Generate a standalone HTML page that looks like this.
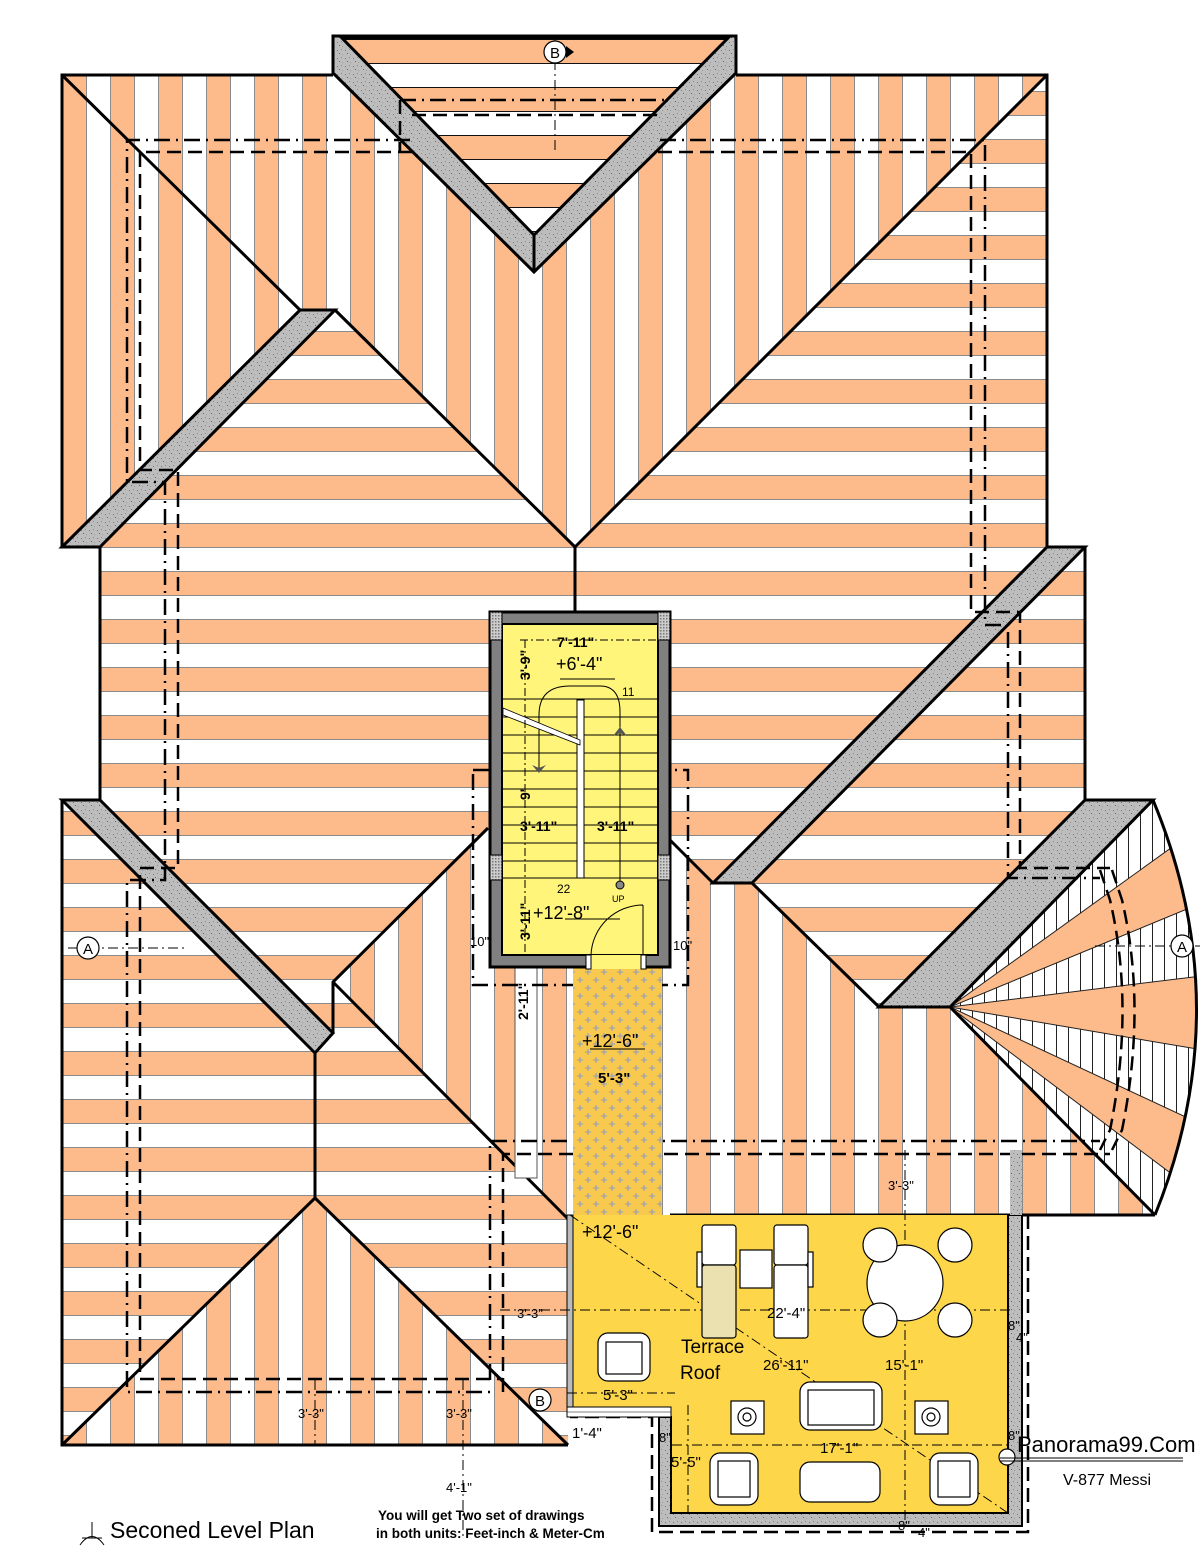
<!DOCTYPE html>
<html><head><meta charset="utf-8"><style>
html,body{margin:0;padding:0;background:#fff}
svg{display:block}
text{font-family:"Liberation Sans",sans-serif}
</style></head><body>
<svg width="1200" height="1549" viewBox="0 0 1200 1549" xmlns="http://www.w3.org/2000/svg">
<defs>
<pattern id="pv" patternUnits="userSpaceOnUse" x="14" y="0" width="48" height="20">
<rect width="48" height="20" fill="#fff"/><rect width="24" height="20" fill="#FDBA8A"/>
<line x1="0.5" y1="0" x2="0.5" y2="20" stroke="#8a8a8a"/><line x1="24.5" y1="0" x2="24.5" y2="20" stroke="#8a8a8a"/>
</pattern>
<pattern id="ph" patternUnits="userSpaceOnUse" x="0" y="43" width="20" height="48">
<rect width="20" height="48" fill="#fff"/><rect width="20" height="24" fill="#FDBA8A"/>
<line x1="0" y1="0.5" x2="20" y2="0.5" stroke="#8a8a8a"/><line x1="0" y1="24.5" x2="20" y2="24.5" stroke="#8a8a8a"/>
</pattern>
<pattern id="pg" patternUnits="userSpaceOnUse" x="0" y="39" width="20" height="48">
<rect width="20" height="48" fill="#fff"/><rect width="20" height="24" fill="#FDBA8A"/>
<line x1="0" y1="0.5" x2="20" y2="0.5" stroke="#111"/><line x1="0" y1="24.5" x2="20" y2="24.5" stroke="#111"/>
</pattern>
<pattern id="hatch" patternUnits="userSpaceOnUse" width="12" height="20">
<rect width="12" height="20" fill="#fff"/><line x1="0.5" y1="0" x2="0.5" y2="20" stroke="#222" stroke-width="1"/>
</pattern>
<pattern id="plus" patternUnits="userSpaceOnUse" width="16" height="16">
<rect width="16" height="16" fill="#F7C94E"/>
<path d="M4 1v6M1 4h6M12 9v6M9 12h6" stroke="#8f9cc4" stroke-width="1"/>
</pattern>
<pattern id="spk" patternUnits="userSpaceOnUse" width="8" height="8">
<rect width="8" height="8" fill="#bdbdbd"/>
<rect x="1" y="2" width="1" height="1" fill="#777"/><rect x="5" y="1" width="1" height="1" fill="#888"/>
<rect x="3" y="5" width="1" height="1" fill="#666"/><rect x="6" y="6" width="1" height="1" fill="#999"/>
</pattern>
<pattern id="chk" patternUnits="userSpaceOnUse" width="3" height="3">
<rect width="3" height="3" fill="#ccc"/><rect width="1.5" height="1.5" fill="#777"/>
</pattern>
<clipPath id="fanclip"><path d="M950,1007 L1153,800 Q1239,1007 1155,1215 Z"/></clipPath>
</defs>

<!-- base horizontal roof -->
<polygon fill="url(#ph)" points="62,75 1047,75 1047,547 1085,547 1085,800 1153,800 1155,1215 570,1215 568,1445 62,1445 62,800 100,800 100,547 62,547"/>
<!-- vertical planes -->
<polygon fill="url(#pv)" points="62,75 1047,75 575,547 335,310 300,310 62,547"/>
<polygon fill="url(#pv)" points="62,1445 315,1198 568,1445"/>
<polygon fill="url(#pv)" points="333,982 488,828 670,828 670,1215 568,1221"/>
<polygon fill="url(#pv)" points="670,840 713,883 752,883 879,1007 950,1007 1155,1215 670,1215"/>
<!-- fan -->
<g clip-path="url(#fanclip)">
<rect x="940" y="790" width="260" height="440" fill="url(#hatch)"/>
<g fill="#FDBA8A" stroke="#222" stroke-width="1">
<polygon points="950,1007 1275,773 1320,854"/>
<polygon points="950,1007 1347,958 1344,1074"/>
<polygon points="950,1007 1312,1176 1270,1248"/>
</g>
</g>
<path d="M1153,800 Q1239,1007 1155,1215" fill="none" stroke="#000" stroke-width="3"/>
<path d="M1100,870 L1110,900 Q1135,1007 1110,1130 L1100,1150 M1112,870 L1122,900 Q1147,1007 1122,1130 L1112,1150" fill="none" stroke="#000" stroke-width="2.5" stroke-dasharray="14 7"/>

<!-- top gable -->
<polygon fill="url(#spk)" stroke="#000" stroke-width="3" points="333,36 736,36 736,73 534,272 333,73"/>
<polygon fill="url(#pg)" stroke="#000" stroke-width="3" points="342,38 728,38 534,235"/>
<line x1="534" y1="235" x2="534" y2="272" stroke="#000" stroke-width="3"/>

<!-- gray ridges -->
<g fill="url(#spk)" stroke="#000" stroke-width="3" stroke-linejoin="miter">
<polygon points="62,547 300,310 335,310 100,547"/>
<polygon points="62,800 100,800 333,1033 315,1053"/>
<polygon points="713,883 1047,547 1085,547 752,883"/>
<polygon points="879,1007 1085,800 1153,800 950,1007"/>
</g>

<!-- roof lines -->
<g fill="none" stroke="#000" stroke-width="3">
<polyline points="333,75 62,75 62,547"/>
<polyline points="736,75 1047,75 1047,547"/>
<line x1="62" y1="75" x2="300" y2="310"/>
<line x1="1047" y1="75" x2="575" y2="547"/>
<line x1="335" y1="310" x2="575" y2="547"/>
<line x1="100" y1="547" x2="100" y2="800"/>
<line x1="575" y1="547" x2="575" y2="612"/>
<polyline points="1085,547 1085,800"/>
<polyline points="62,800 62,1445 568,1445"/>
<line x1="315" y1="1053" x2="315" y2="1198"/>
<polyline points="62,1445 315,1198 568,1445"/>
<polyline points="333,1033 333,982 488,828"/>
<line x1="333" y1="982" x2="570" y2="1221"/>
<line x1="670" y1="840" x2="713" y2="883"/>
<line x1="752" y1="883" x2="879" y2="1007"/>
<line x1="950" y1="1007" x2="1155" y2="1215"/>
<line x1="670" y1="1215" x2="1155" y2="1215"/>
</g>
<rect x="515" y="967" width="22" height="211" fill="#fff" stroke="#555" stroke-width="1"/>

<!-- dashed lines -->
<g fill="none" stroke="#000" stroke-width="2.5">
<g stroke-dasharray="16 6 2 6">
<polyline points="410,140 127,140 127,482 165,482 165,880 127,880 127,1392 490,1392"/>
<polyline points="660,140 985,140 985,625 1008,625 1008,878 1100,878"/>
<polyline points="400,100 670,100"/>
<polyline points="490,1380 490,1141 1100,1141"/>
<polyline points="473,770 688,770 688,985 473,985 473,770"/>
</g>
<g stroke-dasharray="14 7">
<polyline points="412,152 140,152 140,470 178,470 178,868 140,868 140,1379 503,1379"/>
<polyline points="658,152 971,152 971,612 1020,612 1020,868 1110,868"/>
<polyline points="412,115 658,115"/>
<polyline points="400,100 400,152 M412,115 412,152"/>
<polyline points="503,1392 503,1154 1110,1154"/>
<polyline points="1028,1215 1028,1532 652,1532 652,1417 570,1417"/>
</g>
</g>

<!-- thin dash-dot dimension lines -->
<g fill="none" stroke="#000" stroke-width="1" stroke-dasharray="10 4 2 4">
<line x1="68" y1="948" x2="185" y2="948"/>
<line x1="1095" y1="946" x2="1200" y2="946"/>
<line x1="555" y1="40" x2="555" y2="150"/>
<line x1="315" y1="1380" x2="315" y2="1445"/>
<line x1="463" y1="1380" x2="463" y2="1540"/>
</g>

<!-- walkway -->
<rect x="573" y="967" width="89" height="248" fill="url(#plus)"/>

<!-- stair shaft -->
<rect x="490" y="612" width="180" height="355" fill="#808080" stroke="#000" stroke-width="3"/>
<rect x="502" y="624" width="156" height="331" fill="#FFF57A" stroke="#000" stroke-width="2"/>
<rect x="490" y="612" width="12" height="28" fill="url(#chk)" stroke="#000"/>
<rect x="658" y="612" width="12" height="28" fill="url(#chk)" stroke="#000"/>
<rect x="490" y="855" width="12" height="25" fill="url(#chk)" stroke="#000"/>
<rect x="658" y="855" width="12" height="25" fill="url(#chk)" stroke="#000"/>
<rect x="586" y="955" width="60" height="14" fill="#FFF57A"/>
<rect x="586" y="955" width="5" height="14" fill="#fff" stroke="#000"/>
<rect x="641" y="955" width="5" height="14" fill="#fff" stroke="#000"/>
<g stroke="#000" stroke-width="1">
<line x1="502" y1="699" x2="658" y2="699"/><line x1="502" y1="717" x2="658" y2="717"/>
<line x1="502" y1="735" x2="658" y2="735"/><line x1="502" y1="753" x2="658" y2="753"/>
<line x1="502" y1="771" x2="658" y2="771"/><line x1="502" y1="789" x2="658" y2="789"/>
<line x1="502" y1="807" x2="658" y2="807"/><line x1="502" y1="825" x2="658" y2="825"/>
<line x1="502" y1="843" x2="658" y2="843"/><line x1="502" y1="861" x2="658" y2="861"/>
<line x1="502" y1="878" x2="658" y2="878"/>
</g>
<rect x="577" y="700" width="7" height="178" fill="#fff" stroke="#000"/>
<path d="M539,770 V715 Q539,686 570,686 H600 Q620,686 620,712 V885" fill="none" stroke="#000" stroke-width="1"/>
<polygon points="539,773 532,765 539,768 546,765" fill="#555"/>
<polygon points="620,727 613,736 620,733 627,736" fill="#555"/>
<circle cx="620" cy="885" r="4" fill="#888" stroke="#000"/>
<polygon points="503,708 580,740 580,745 503,715" fill="#fff" stroke="#000" stroke-width="0.8"/>
<path d="M643,955 V905 M643,905 A52,52 0 0 0 591,955" fill="none" stroke="#000" stroke-width="1"/>
<line x1="520" y1="640" x2="658" y2="640" stroke="#000" stroke-dasharray="8 3 2 3"/>
<line x1="525" y1="640" x2="525" y2="955" stroke="#000" stroke-dasharray="8 3 2 3"/>
<line x1="560" y1="679" x2="615" y2="679" stroke="#000"/>
<line x1="565" y1="919" x2="620" y2="919" stroke="#000"/>
<line x1="590" y1="1049" x2="645" y2="1049" stroke="#000"/>
<line x1="595" y1="1240" x2="650" y2="1240" stroke="#000"/>

<!-- terrace -->
<polygon points="570,1215 1008,1215 1008,1513 671,1513 671,1407 570,1407" fill="#FDD64A"/>
<rect x="567" y="1215" width="6" height="192" fill="#bbb" stroke="#000"/>
<polygon points="1008,1215 1022,1215 1022,1526 659,1526 659,1417 671,1417 671,1513 1008,1513" fill="url(#spk)" stroke="#000" stroke-width="2"/>
<rect x="567" y="1407" width="104" height="10" fill="#fff" stroke="#000"/>
<line x1="567" y1="1412" x2="671" y2="1412" stroke="#000" stroke-width="0.6"/>
<rect x="1010" y="1150" width="12" height="65" fill="url(#spk)"/>
<g fill="none" stroke="#000" stroke-width="1" stroke-dasharray="10 4 2 4">
<line x1="500" y1="1310" x2="1010" y2="1310"/>
<line x1="905" y1="1150" x2="905" y2="1525"/>
<line x1="570" y1="1215" x2="1008" y2="1513"/>
<line x1="567" y1="1393" x2="675" y2="1393"/>
<line x1="672" y1="1445" x2="1010" y2="1445"/>
<line x1="688" y1="1405" x2="688" y2="1513"/>
</g>
<!-- furniture -->
<g stroke="#000" stroke-width="1.2" fill="#fff">
<rect x="702" y="1225" width="34" height="40" rx="3"/>
<rect x="702" y="1265" width="34" height="73" rx="3" fill="#EAE0B0"/>
<rect x="774" y="1225" width="34" height="40" rx="3"/>
<rect x="774" y="1265" width="34" height="73" rx="3"/>
<rect x="740" y="1250" width="32" height="38"/>
<rect x="697" y="1252" width="5" height="35"/><rect x="808" y="1252" width="5" height="35"/>
<circle cx="905" cy="1283" r="38"/>
<ellipse cx="880" cy="1245" rx="17" ry="17"/><ellipse cx="955" cy="1245" rx="17" ry="17"/>
<ellipse cx="880" cy="1320" rx="17" ry="17"/><ellipse cx="955" cy="1320" rx="17" ry="17"/>
<rect x="598" y="1333" width="52" height="48" rx="10"/>
<rect x="606" y="1342" width="36" height="32"/>
<rect x="800" y="1382" width="82" height="48" rx="10"/>
<rect x="808" y="1390" width="66" height="35"/>
<rect x="731" y="1401" width="33" height="33"/><circle cx="747" cy="1417" r="9" fill="none"/><circle cx="747" cy="1417" r="4" fill="none"/>
<rect x="915" y="1401" width="33" height="33"/><circle cx="931" cy="1417" r="9" fill="none"/><circle cx="931" cy="1417" r="4" fill="none"/>
<rect x="710" y="1453" width="48" height="52" rx="10"/><rect x="718" y="1461" width="32" height="36"/>
<rect x="930" y="1453" width="48" height="52" rx="10"/><rect x="938" y="1461" width="32" height="36"/>
<rect x="800" y="1462" width="80" height="40" rx="10"/>
</g>

<!-- section markers -->
<g stroke="#000" stroke-width="1.2" fill="#fff">
<circle cx="88" cy="948" r="11"/><circle cx="1182" cy="946" r="11"/>
<circle cx="555" cy="52" r="11"/><circle cx="540" cy="1400" r="11"/>
<circle cx="1007" cy="1457" r="8"/>
</g>
<g font-size="15" text-anchor="middle">
<text x="88" y="954">A</text><text x="1182" y="952">A</text>
<text x="555" y="58">B</text><text x="540" y="1406">B</text>
</g>
<polygon points="566,46 574,52 566,58" fill="#000"/>
<line x1="1000" y1="1458" x2="1183" y2="1458" stroke="#000"/><line x1="1000" y1="1461" x2="1183" y2="1461" stroke="#000"/>

<!-- stair texts -->
<g font-size="14" fill="#000">
<text x="557" y="647" font-weight="bold">7'-11"</text>
<text x="556" y="670" font-size="18">+6'-4"</text>
<text x="622" y="696" font-size="12">11</text>
<text x="520" y="831" font-weight="bold">3'-11"</text>
<text x="597" y="831" font-weight="bold">3'-11"</text>
<text x="557" y="893" font-size="12">22</text>
<text x="612" y="902" font-size="9">UP</text>
<text x="533" y="919" font-size="18">+12'-8"</text>
<text x="470" y="946" font-size="13">10"</text>
<text x="673" y="950" font-size="13">10"</text>
<text x="582" y="1047" font-size="18">+12'-6"</text>
<text x="598" y="1083" font-weight="bold" font-size="15">5'-3"</text>
<text transform="translate(530,680) rotate(-90)" font-weight="bold">3'-9"</text>
<text transform="translate(530,800) rotate(-90)" font-weight="bold">9'</text>
<text transform="translate(530,940) rotate(-90)" font-weight="bold">3'-11"</text>
<text transform="translate(528,1020) rotate(-90)" font-weight="bold">2'-11"</text>
</g>
<!-- terrace texts -->
<g font-size="15" fill="#000">
<text x="582" y="1238" font-size="18">+12'-6"</text>
<text x="681" y="1353" font-family="DejaVu Sans,sans-serif" font-size="19">Terrace</text>
<text x="680" y="1379" font-family="DejaVu Sans,sans-serif" font-size="19">Roof</text>
<text x="767" y="1318">22'-4"</text>
<text x="763" y="1370">26'-11"</text>
<text x="885" y="1370">15'-1"</text>
<text x="603" y="1400">5'-3"</text>
<text x="820" y="1453">17'-1"</text>
<text x="671" y="1467">5'-5"</text>
<text x="517" y="1318" font-size="13">3'-3"</text>
<text x="888" y="1190" font-size="13">3'-3"</text>
<text x="1008" y="1330" font-size="13">8"</text>
<text x="1016" y="1342" font-size="13">4"</text>
<text x="1008" y="1440" font-size="13">8"</text>
<text x="659" y="1442" font-size="13">8"</text>
<text x="898" y="1530" font-size="13">8"</text>
<text x="918" y="1537" font-size="13">4"</text>
<text x="572" y="1438">1'-4"</text>
<text x="298" y="1418" font-size="13">3'-3"</text>
<text x="446" y="1418" font-size="13">3'-3"</text>
<text x="446" y="1492" font-size="13">4'-1"</text>
</g>
<text x="378" y="1520" font-size="13.5" font-weight="bold">You will get Two set of drawings</text>
<text x="376" y="1538" font-size="13.5" font-weight="bold">in both units: Feet-inch &amp; Meter-Cm</text>
<text x="110" y="1538" font-family="DejaVu Sans,sans-serif" font-size="23">Seconed Level Plan</text>
<path d="M92,1522 V1538 M82,1538 H102 M80,1545 Q92,1528 104,1545" fill="none" stroke="#000" stroke-width="1"/>
<text x="1017" y="1452" font-family="DejaVu Sans,sans-serif" font-size="22">Panorama99.Com</text>
<text x="1063" y="1485" font-family="DejaVu Sans,sans-serif" font-size="16">V-877 Messi</text>
</svg>
</body></html>
